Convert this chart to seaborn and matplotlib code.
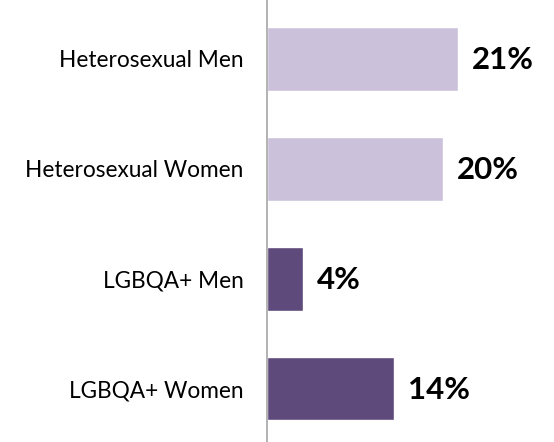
import matplotlib
matplotlib.use('Agg')
import matplotlib.pyplot as plt
import seaborn as sns

# data
groups = ['Heterosexual Men', 'Heterosexual Women', 'LGBQA+ Men', 'LGBQA+ Women']
values = [21, 19.4, 4, 14]
value_labels = ['21%', '20%', '4%', '14%']
colors = ['#CBC1DB', '#CBC1DB', '#5E4A7B', '#5E4A7B']

sns.set_style('white')
plt.rcParams['font.family'] = ['Lato', 'DejaVu Sans']

fig = plt.figure(figsize=(5.54, 4.42), dpi=100)
ax = fig.add_axes([266.5 / 554, 0, 1 - 266.5 / 554, 1])

sns.barplot(x=values, y=groups, hue=groups, palette=colors, legend=False,
            orient='h', width=0.58, saturation=1, ax=ax)

# percent labels to the right of each bar
for i, (v, lab) in enumerate(zip(values, value_labels)):
    ax.annotate(lab, (v, i), xytext=(10, -1), textcoords='offset points',
                va='center', ha='left', fontsize=22.5, fontweight='bold', color='black')

ax.set_xlim(0, 31.6)
ax.set_ylim(3.486, -0.536)
ax.set_xticks([])
ax.set_xlabel('')
ax.set_ylabel('')
ax.tick_params(axis='y', length=0, pad=16.5, labelsize=16.3, labelcolor='black')
for side in ['top', 'right', 'bottom']:
    ax.spines[side].set_visible(False)
ax.spines['left'].set_color('#A6A6A6')
ax.spines['left'].set_linewidth(1.2)

fig.savefig('out.png', dpi=100)
